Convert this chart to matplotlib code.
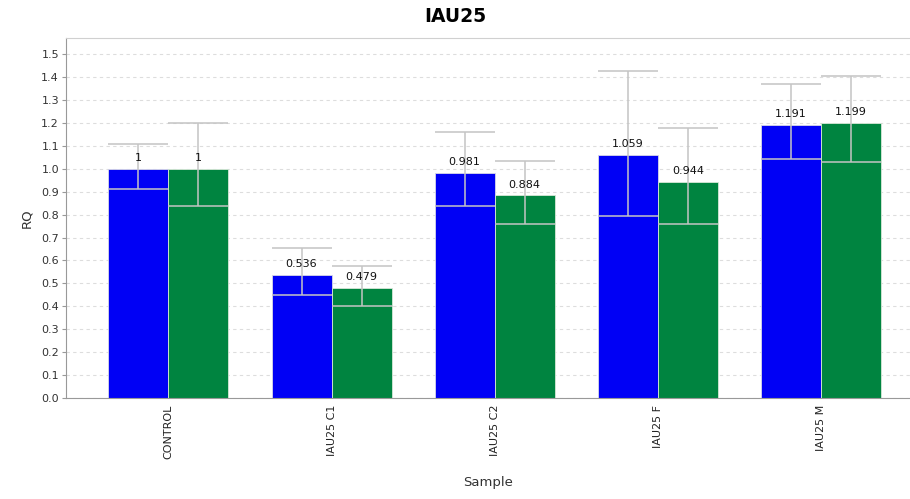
import matplotlib
matplotlib.use('Agg')
import matplotlib.pyplot as plt
import numpy as np

# data
samples = ['CONTROL', 'IAU25 C1', 'IAU25 C2', 'IAU25 F', 'IAU25 M']
rq_a = [1.0, 0.536, 0.981, 1.059, 1.191]
rq_b = [1.0, 0.479, 0.884, 0.944, 1.199]
lab_a = ['1', '0.536', '0.981', '1.059', '1.191']
lab_b = ['1', '0.479', '0.884', '0.944', '1.199']
lo_a = [0.911, 0.449, 0.839, 0.794, 1.042]
hi_a = [1.108, 0.653, 1.161, 1.426, 1.369]
lo_b = [0.837, 0.403, 0.759, 0.759, 1.029]
hi_b = [1.200, 0.577, 1.035, 1.176, 1.404]

blue = '#0000f5'
green = '#008440'
err_col = '#c4c4c4'

fig = plt.figure(figsize=(9.1, 4.99), dpi=100)
ax = fig.add_axes([0.0725, 0.2024, 0.9275, 0.7214])

x = np.arange(len(samples))
w = 0.368

ax.bar(x - w/2, rq_a, w, color=blue, edgecolor='#d8d8e8', linewidth=0.6, zorder=2)
ax.bar(x + w/2, rq_b, w, color=green, edgecolor='#d8e8d8', linewidth=0.6, zorder=2)

#Error bars: vertical line with full-width caps at both ends
for xs, lo, hi in [(x - w/2, lo_a, hi_a), (x + w/2, lo_b, hi_b)]:
    ax.vlines(xs, lo, hi, color=err_col, lw=1.1, zorder=3)
    ax.hlines(lo, xs - w/2, xs + w/2, color=err_col, lw=1.1, zorder=3)
    ax.hlines(hi, xs - w/2, xs + w/2, color=err_col, lw=1.1, zorder=3)

#Value labels
for xs, vals, labs in [(x - w/2, rq_a, lab_a), (x + w/2, rq_b, lab_b)]:
    for xi, v, t in zip(xs, vals, labs):
        ax.text(xi, v + 0.025, t, ha='center', va='bottom', fontsize=8, color='#111111', zorder=4)

ax.set_xlim(-0.628, 4.546)
ax.set_ylim(0, 1.57)
ax.set_yticks(np.arange(0, 1.51, 0.1))
ax.set_yticklabels(['%.1f' % v for v in np.arange(0, 1.51, 0.1)], fontsize=8, color='#333333')
ax.set_xticks(x)
ax.set_xticklabels(samples, rotation=90, fontsize=8, color='#222222')
ax.tick_params(axis='x', length=0, pad=5)
ax.tick_params(axis='y', length=3, color='#999999', pad=2)

ax.yaxis.grid(True, linestyle=(0, (3, 3)), color='#dddddd', lw=0.8, zorder=0)
ax.set_axisbelow(True)

ax.spines['right'].set_visible(False)
ax.spines['top'].set_color('#d0d0d0')
ax.spines['left'].set_color('#999999')
ax.spines['bottom'].set_color('#999999')

ax.set_ylabel('RQ', fontsize=9.5, color='#333333', labelpad=6)
ax.set_xlabel('Sample', fontsize=9.5, color='#333333', labelpad=12)
fig.suptitle('IAU25', fontsize=13.5, fontweight='bold', y=0.985)

fig.savefig('out.png', dpi=100)
